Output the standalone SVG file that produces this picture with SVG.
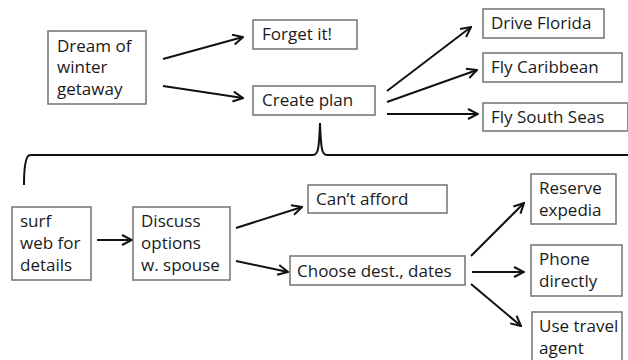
<svg xmlns="http://www.w3.org/2000/svg" width="628" height="360" viewBox="0 0 628 360">
<style>
.box{fill:#fff;stroke:#7a7a7a;stroke-width:1.6}
.t{font-family:"Open Sans","Liberation Sans",sans-serif;font-size:17px;fill:#1a1a1a}
.c{fill:none;stroke:#111;stroke-width:2;marker-end:url(#ah)}
.br{fill:none;stroke:#111;stroke-width:2}
</style>
<defs>
<marker id="ah" viewBox="0 0 12 12" refX="11" refY="6" markerWidth="12" markerHeight="12" markerUnits="userSpaceOnUse" orient="auto">
<path d="M1,1 L11,6 L1,11" fill="none" stroke="#111" stroke-width="2"/>
</marker>
</defs>
<rect width="628" height="360" fill="#fff"/>
<g id="connectors">
<line class="c" x1="163" y1="59" x2="243" y2="37"/>
<line class="c" x1="163" y1="86" x2="243" y2="98"/>
<line class="c" x1="387" y1="91" x2="471" y2="27"/>
<line class="c" x1="387" y1="102" x2="477" y2="70"/>
<line class="c" x1="387" y1="114" x2="478" y2="114"/>
<line class="c" x1="97" y1="240" x2="132" y2="240"/>
<line class="c" x1="236" y1="228" x2="302" y2="207"/>
<line class="c" x1="236" y1="261" x2="288" y2="272"/>
<line class="c" x1="471" y1="256" x2="524" y2="203"/>
<line class="c" x1="472" y1="272" x2="524" y2="272"/>
<line class="c" x1="471" y1="284" x2="521" y2="326"/>
<path class="br" d="M24,185 C24,172 25,160 28,156 Q29,155 32,155 L313,155 C318,155 319,150 320,123 C321,150 322,155 327,155 L628,155"/>
</g>
<g id="dream"><rect class="box" x="48" y="31" width="98" height="73"/><text class="t"><tspan x="57" y="52">Dream of</tspan><tspan x="57" y="73">winter</tspan><tspan x="57" y="95">getaway</tspan></text></g>
<g id="forget"><rect class="box" x="253" y="20" width="104" height="29"/><text class="t" x="262" y="40">Forget it!</text></g>
<g id="create"><rect class="box" x="253" y="86" width="122" height="29"/><text class="t" x="262" y="106">Create plan</text></g>
<g id="florida"><rect class="box" x="483" y="9" width="121" height="29"/><text class="t" x="491" y="29">Drive Florida</text></g>
<g id="caribbean"><rect class="box" x="483" y="53" width="139" height="29"/><text class="t" x="491" y="73">Fly Caribbean</text></g>
<g id="southseas"><rect class="box" x="483" y="103" width="145" height="28"/><text class="t" x="491" y="123">Fly South Seas</text></g>
<g id="surf"><rect class="box" x="12" y="207" width="79" height="73"/><text class="t"><tspan x="20" y="227">surf</tspan><tspan x="20" y="249">web for</tspan><tspan x="20" y="271">details</tspan></text></g>
<g id="discuss"><rect class="box" x="133" y="207" width="97" height="73"/><text class="t"><tspan x="141" y="227">Discuss</tspan><tspan x="141" y="249">options</tspan><tspan x="141" y="271">w. spouse</tspan></text></g>
<g id="afford"><rect class="box" x="308" y="185" width="139" height="28"/><text class="t" x="316" y="205">Can’t afford</text></g>
<g id="choose"><rect class="box" x="290" y="256" width="175" height="29"/><text class="t" x="297" y="277">Choose dest., dates</text></g>
<g id="reserve"><rect class="box" x="531" y="174" width="85" height="50"/><text class="t"><tspan x="539" y="194">Reserve</tspan><tspan x="539" y="216">expedia</tspan></text></g>
<g id="phone"><rect class="box" x="531" y="245" width="91" height="51"/><text class="t"><tspan x="539" y="265">Phone</tspan><tspan x="539" y="287">directly</tspan></text></g>
<g id="agent"><rect class="box" x="532" y="312" width="90" height="54"/><text class="t"><tspan x="539" y="332">Use travel</tspan><tspan x="539" y="354">agent</tspan></text></g>
</svg>
